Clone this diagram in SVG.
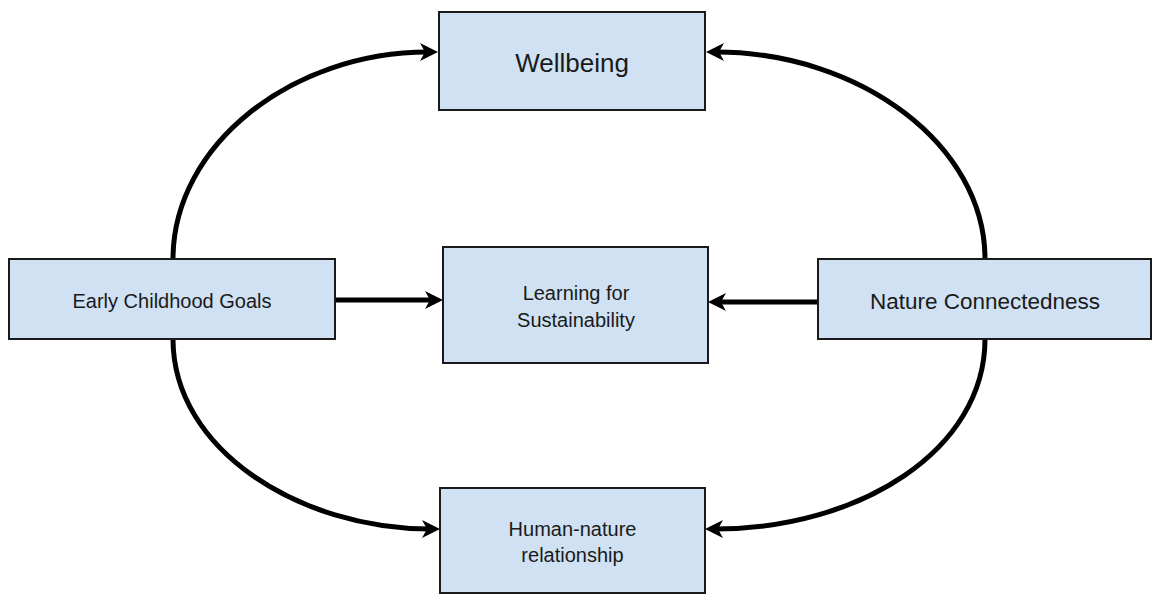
<svg xmlns="http://www.w3.org/2000/svg" width="1153" height="595" viewBox="0 0 1153 595">
<style>
.box{fill:#cfe1f2;stroke:#1a1a1a;stroke-width:2}
.t{font-family:"Liberation Sans",Arial,sans-serif;fill:#1a1a1a;text-anchor:middle}
.c{fill:none;stroke:#000;stroke-width:5;marker-end:url(#ah)}
</style>
<defs>
<marker id="ah" markerUnits="userSpaceOnUse" markerWidth="20" markerHeight="20" viewBox="0 0 20 20" refX="8" refY="10" orient="auto">
<path d="M0,1 L18,10 L0,19 L5,10 z" fill="#000"/>
</marker>
</defs>
<rect width="1153" height="595" fill="#fff"/>
<g id="connectors">
<path class="c" d="M173,259 C173,145 292,52 428,52"/>
<path class="c" d="M985,259 C985,145 860,52 716,52"/>
<path class="c" d="M173,339 C173,450 300,529 430,529"/>
<path class="c" d="M985,339 C985,450 860,529 715,529"/>
<path class="c" d="M335,300 L433,300"/>
<path class="c" d="M818,302 L718,302"/>
</g>
<g id="wellbeing">
<rect class="box" x="439" y="12" width="266" height="98"/>
<text class="t" x="572" y="72" font-size="26">Wellbeing</text>
</g>
<g id="early-childhood-goals">
<rect class="box" x="9" y="259" width="326" height="80"/>
<text class="t" x="172" y="308" font-size="20">Early Childhood Goals</text>
</g>
<g id="learning-for-sustainability">
<rect class="box" x="443" y="247" width="265" height="116"/>
<text class="t" x="576" y="300" font-size="20">Learning for</text>
<text class="t" x="576" y="327" font-size="20">Sustainability</text>
</g>
<g id="nature-connectedness">
<rect class="box" x="818" y="259" width="333" height="80"/>
<text class="t" x="985" y="309" font-size="22.5">Nature Connectedness</text>
</g>
<g id="human-nature-relationship">
<rect class="box" x="440" y="488" width="265" height="105"/>
<text class="t" x="572.5" y="536" font-size="20">Human-nature</text>
<text class="t" x="572.5" y="562" font-size="20">relationship</text>
</g>
</svg>
